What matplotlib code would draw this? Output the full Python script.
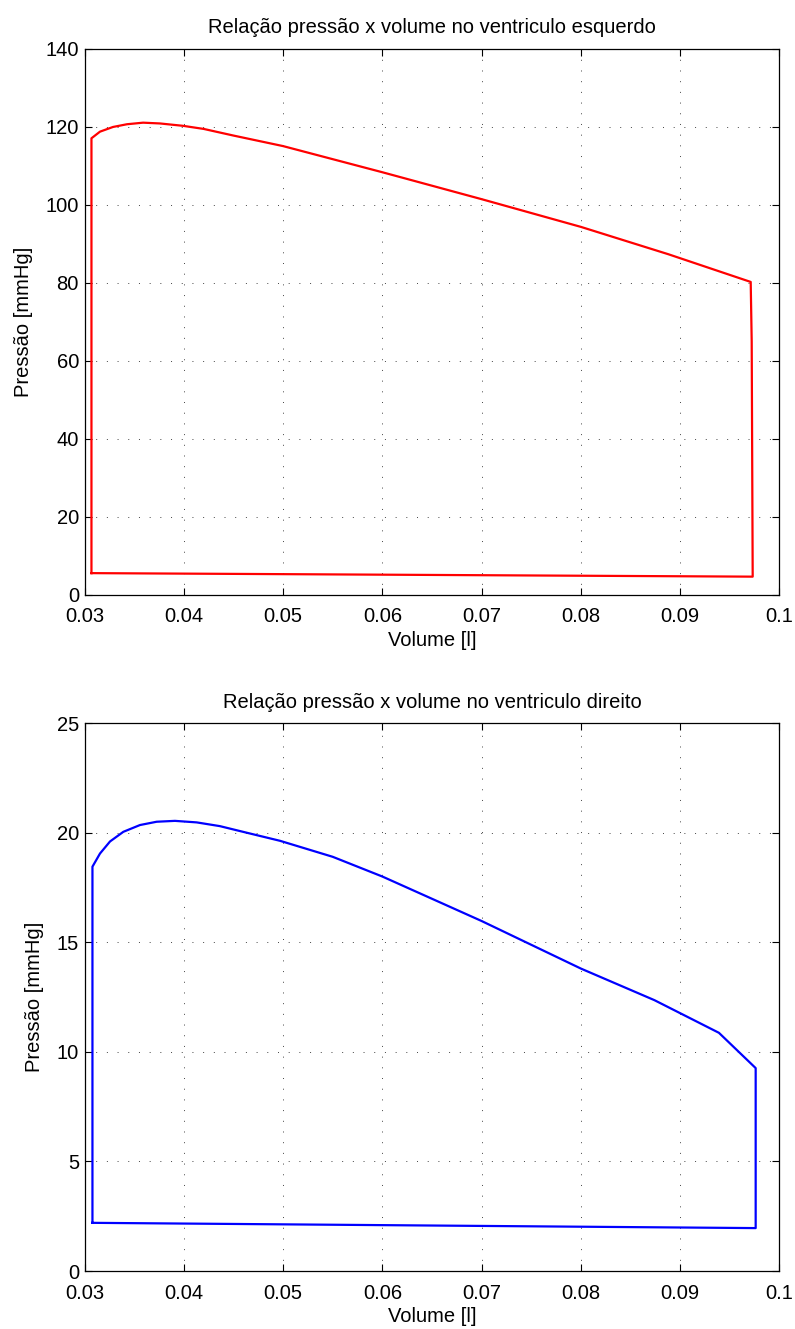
import matplotlib.pyplot as plt

plt.rcParams["font.family"] = ["Liberation Sans", "DejaVu Sans"]

# Ventrículo esquerdo: laço pressão-volume
vol_esq = [0.0307, 0.0307, 0.03156, 0.03287, 0.03428, 0.0359, 0.0376, 0.0399,
           0.0420, 0.0450, 0.0500, 0.0600, 0.0700, 0.0800, 0.0888, 0.0971,
           0.0972, 0.0973, 0.0307]
p_esq = [5.6, 117.0, 118.7, 119.9, 120.6, 121.0, 120.8, 120.2,
         119.4, 117.7, 115.0, 108.3, 101.4, 94.3, 87.3, 80.2,
         65.0, 4.7, 5.6]

# Ventrículo direito: laço pressão-volume
vol_dir = [0.0308, 0.0308, 0.03156, 0.03257, 0.03391, 0.03559, 0.03727, 0.03911,
           0.0413, 0.04363, 0.04633, 0.04969, 0.0550, 0.0600, 0.0700, 0.0800,
           0.0874, 0.0939, 0.0976, 0.0976, 0.0308]
p_dir = [2.2, 18.45, 19.05, 19.6, 20.04, 20.35, 20.5, 20.54,
         20.47, 20.3, 20.0, 19.63, 18.9, 18.0, 15.97, 13.8,
         12.36, 10.87, 9.26, 1.96, 2.2]

titulos = ["Relação pressão x volume no ventriculo esquerdo",
           "Relação pressão x volume no ventriculo direito"]
xticks = [0.03, 0.04, 0.05, 0.06, 0.07, 0.08, 0.09, 0.1]
xticklabels = ["0.03", "0.04", "0.05", "0.06", "0.07", "0.08", "0.09", "0.1"]


def estilo(ax, titulo, ylim, yticks):
    ax.set_xlim(0.03, 0.1)
    ax.set_ylim(*ylim)
    ax.set_xticks(xticks)
    ax.set_xticklabels(xticklabels)
    ax.set_yticks(yticks)
    ax.tick_params(direction="in", top=True, right=True, length=5,
                   labelsize=14.5, width=0.8)
    ax.tick_params(axis="x", pad=9)
    ax.tick_params(axis="y", pad=4)
    ax.grid(True, color="#444444", linestyle=(0, (1, 10)), linewidth=0.7)
    ax.set_xlabel("Volume [l]", fontsize=14.5, labelpad=3)
    ax.set_ylabel("Pressão [mmHg]", fontsize=14.5, labelpad=9)
    ax.set_title(titulo, fontsize=14.5, pad=11)
    for s in ax.spines.values():
        s.set_linewidth(0.9)


fig = plt.figure(figsize=(7.95, 13.29), dpi=100)
ax1 = fig.add_axes([0.1063, 0.5523, 0.8742, 0.4112])
ax2 = fig.add_axes([0.1063, 0.0436, 0.8742, 0.4123])

ax1.plot(vol_esq, p_esq, color="red", linewidth=1.6)
estilo(ax1, titulos[0], (0, 140), range(0, 141, 20))

ax2.plot(vol_dir, p_dir, color="blue", linewidth=1.6)
estilo(ax2, titulos[1], (0, 25), range(0, 26, 5))

fig.savefig("out.png", dpi=100)
